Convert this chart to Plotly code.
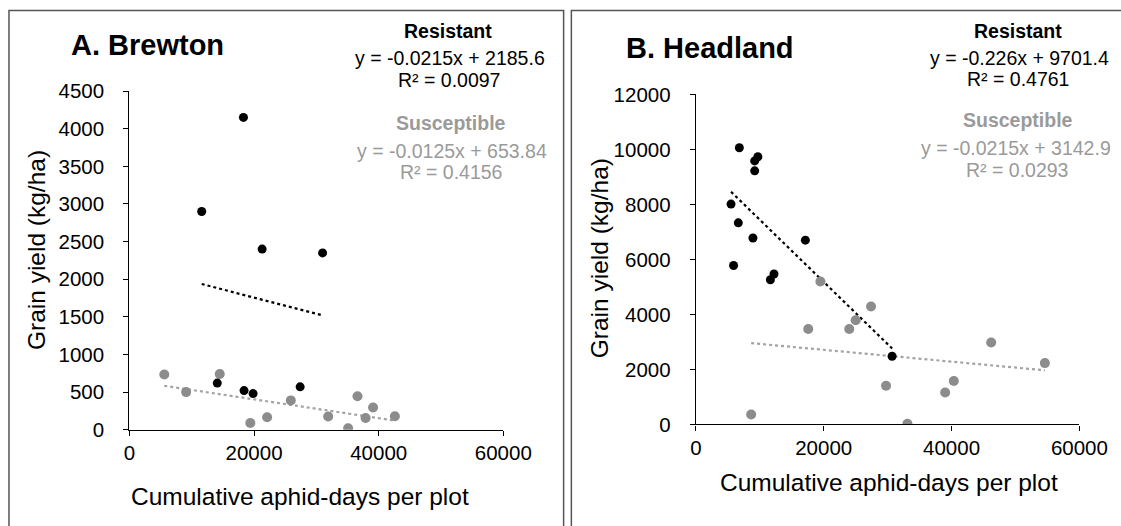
import numpy as np
import plotly.graph_objects as go
from plotly.subplots import make_subplots

W = 1121
H = 526

# Brewton - resistant plots
brewton_res_x = [18300, 11600, 21300, 31000, 14100, 18400, 19850, 27400]
brewton_res_y = [4150, 2900, 2400, 2350, 620, 520, 480, 570]

# Brewton - susceptible plots
brewton_sus_x = [5600, 9100, 14500, 19400, 22100, 25900, 31900, 35100, 36600, 37900, 39100, 42600]
brewton_sus_y = [735, 500, 740, 90, 165, 390, 175, 20, 445, 155, 295, 180]

# Headland - resistant plots
headland_res_x = [6800, 9700, 9200, 9200, 5500, 6640, 8930, 17130, 5900, 11660, 12220, 30700]
headland_res_y = [10060, 9730, 9580, 9220, 8010, 7330, 6780, 6700, 5780, 5260, 5470, 2480]

# Headland - susceptible plots
headland_sus_x = [19480, 17580, 24000, 25000, 27400, 8650, 29750, 33100, 39000, 40350, 46200, 54600]
headland_sus_y = [5200, 3470, 3470, 3790, 4290, 360, 1410, 25, 1160, 1580, 2980, 2230]

# linear trendlines as printed on the chart (slope, intercept, R2)
brewton_res_fit = [-0.0215, 2185.6, "0.0097"]
brewton_sus_fit = [-0.0125, 653.84, "0.4156"]
headland_res_fit = [-0.226, 9701.4, "0.4761"]
headland_sus_fit = [-0.0215, 3142.9, "0.0293"]

x_ticks = [0, 20000, 40000, 60000]
brewton_y_ticks = list(range(0, 4501, 500))
headland_y_ticks = list(range(0, 12001, 2000))

BLACK = "#000000"
GREY = "#8c8c8c"
GREY_TXT = "#9a9a9a"
GREY_LINE = "#a3a3a3"
FONT = "Liberation Sans, Arial, sans-serif"


def fx(x):
    # target pixel x -> paper x (small correction found from the first renders)
    if x > 567:
        x += 4.5
    return (x - 3.5) / 0.975 / W


def fy(y):
    # target pixel y (from top) -> paper y
    return 1 - (y - 10.8) / 0.958 / H


def trend(xs, fit):
    xx = np.array([min(xs), max(xs)])
    return xx, fit[0] * xx + fit[1]


def eq_text(fit):
    sign = "-" if fit[0] < 0 else ""
    return f"y = {sign}{abs(fit[0])}x + {fit[1]}"


fig = make_subplots(rows=1, cols=2)

panels = [
    (1, brewton_res_x, brewton_res_y, brewton_sus_x, brewton_sus_y, brewton_res_fit, brewton_sus_fit),
    (2, headland_res_x, headland_res_y, headland_sus_x, headland_sus_y, headland_res_fit, headland_sus_fit),
]

for col, rx, ry, sx, sy, rfit, sfit in panels:
    # trendlines
    tx, ty = trend(sx, sfit)
    fig.add_trace(go.Scatter(x=tx, y=ty, mode="lines",
                             line=dict(color=GREY_LINE, width=2.2, dash="dot")), row=1, col=col)
    tx, ty = trend(rx, rfit)
    fig.add_trace(go.Scatter(x=tx, y=ty, mode="lines",
                             line=dict(color=BLACK, width=2.2, dash="dot")), row=1, col=col)
    # points
    fig.add_trace(go.Scatter(x=sx, y=sy, mode="markers",
                             marker=dict(color=GREY, size=10)), row=1, col=col)
    fig.add_trace(go.Scatter(x=rx, y=ry, mode="markers",
                             marker=dict(color=BLACK, size=9)), row=1, col=col)

axis_style = dict(
    showgrid=False, zeroline=False, showline=True, linecolor=BLACK, linewidth=1.3,
    ticks="outside", ticklen=5, tickcolor=BLACK, tickwidth=1.3, tickformat="d",
    tickfont=dict(family=FONT, size=20.5, color=BLACK),
)

fig.update_xaxes(axis_style, range=[0, 60000], tickvals=x_ticks, ticklabelstandoff=0)
fig.update_yaxes(axis_style, ticklabelstandoff=15)
fig.update_xaxes(domain=[fx(127.7), fx(504)], row=1, col=1)
fig.update_xaxes(domain=[fx(693.3), fx(1079.3)], row=1, col=2)
fig.update_yaxes(domain=[fy(429.3), fy(90)], range=[0, 4500],
                 tickvals=brewton_y_ticks, row=1, col=1)
fig.update_yaxes(domain=[fy(424), fy(93.3)], range=[0, 12000],
                 tickvals=headland_y_ticks, row=1, col=2)

annotations = []


def add_text(text, x, y, size, color=BLACK, bold=False, angle=0):
    if bold:
        text = f"<b>{text}</b>"
    annotations.append(dict(
        text=text, x=fx(x), y=fy(y), xref="paper", yref="paper", showarrow=False,
        xanchor="center", yanchor="middle", textangle=angle,
        font=dict(family=FONT, size=size, color=color),
    ))


# panel A
add_text("A. Brewton", 145.5, 44, 29, bold=True)
add_text("Resistant", 448, 29.5, 19.5, bold=True)
add_text(eq_text(brewton_res_fit), 450, 57, 19.5)
add_text(f"R² = {brewton_res_fit[2]}", 449, 78.5, 19.5)
add_text("Susceptible", 451, 121.5, 19.5, color=GREY_TXT, bold=True)
add_text(eq_text(brewton_sus_fit), 452, 150, 19.5, color=GREY_TXT)
add_text(f"R² = {brewton_sus_fit[2]}", 451, 171.5, 19.5, color=GREY_TXT)
add_text("Grain yield (kg/ha)", 34, 249, 24.5, angle=-90)
add_text("Cumulative aphid-days per plot", 299.6, 496, 24.5)

# panel B
add_text("B. Headland", 707.6, 47, 29, bold=True)
add_text("Resistant", 1017, 29.5, 19.5, bold=True)
add_text(eq_text(headland_res_fit), 1019, 57, 19.5)
add_text(f"R² = {headland_res_fit[2]}", 1018, 78, 19.5)
add_text("Susceptible", 1017, 118.5, 19.5, color=GREY_TXT, bold=True)
add_text(eq_text(headland_sus_fit), 1015.6, 147, 19.5, color=GREY_TXT)
add_text(f"R² = {headland_sus_fit[2]}", 1016, 169, 19.5, color=GREY_TXT)
add_text("Grain yield (kg/ha)", 595.8, 257.5, 24.5, angle=-90)
add_text("Cumulative aphid-days per plot", 887.4, 482, 24.5)

# panel frames
shapes = []
for x0, x1 in [(6.5, 564.7), (568, 1140)]:
    shapes.append(dict(type="rect", xref="paper", yref="paper",
                       x0=fx(x0), x1=fx(x1), y0=fy(560), y1=fy(9.3),
                       line=dict(color="#555555", width=1.5)))

fig.update_layout(
    width=W, height=H,
    margin=dict(l=0, r=0, t=0, b=0),
    paper_bgcolor="white", plot_bgcolor="white",
    showlegend=False,
    annotations=annotations,
    shapes=shapes,
    font=dict(family=FONT, color=BLACK),
)

# page margin off so the figure sits at the window corner
fig.write_html("out.html", config={"displayModeBar": False},
               post_script="document.body.style.margin='0';document.body.style.overflow='hidden';")
